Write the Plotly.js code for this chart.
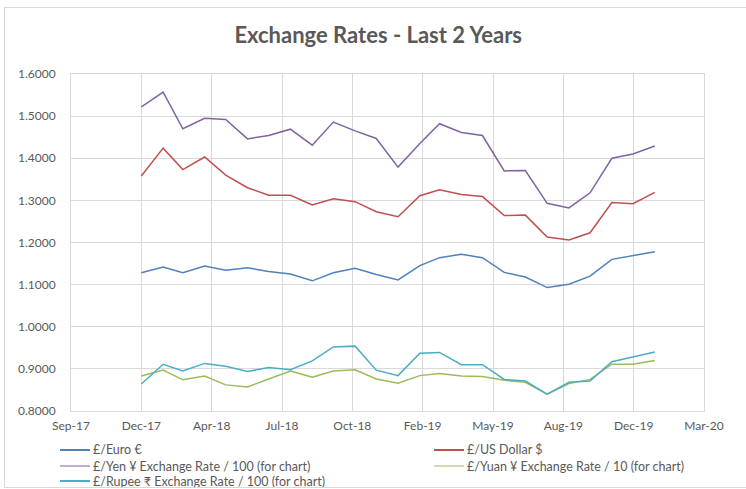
<!DOCTYPE html>
<html>
<head>
<meta charset="utf-8">
<script src="https://cdn.plot.ly/plotly-3.0.1.min.js"></script>
<style>
  html, body { margin: 0; padding: 0; background: #ffffff; }
  #wrap { position: relative; width: 746px; height: 489px; overflow: hidden; }
  #chart { position: absolute; left: 0; top: 0; width: 746px; height: 489px; }
  #frame { position: absolute; left: 4px; top: 7px; width: 760px; height: 479px; border: 1px solid #d9d9d9; pointer-events: none; }
</style>
</head>
<body>
<div id="wrap"><div id="chart"></div><div id="frame"></div></div>
<script>
// Month-end observation dates
const dates = [
  '2017-12-31','2018-01-31','2018-02-28','2018-03-31','2018-04-30','2018-05-31','2018-06-30',
  '2018-07-31','2018-08-31','2018-09-30','2018-10-31','2018-11-30','2018-12-31',
  '2019-01-31','2019-02-28','2019-03-31','2019-04-30','2019-05-31','2019-06-30',
  '2019-07-31','2019-08-31','2019-09-30','2019-10-31','2019-11-30','2019-12-31'
];
const euro = [1.128,1.142,1.128,1.144,1.134,1.140,1.131,1.125,1.109,1.128,1.139,1.124,1.111,
              1.145,1.164,1.172,1.164,1.129,1.118,1.093,1.101,1.120,1.160,1.169,1.178];
const usd  = [1.358,1.424,1.373,1.403,1.360,1.330,1.312,1.312,1.289,1.304,1.297,1.273,1.261,
              1.311,1.325,1.314,1.309,1.264,1.265,1.213,1.206,1.223,1.295,1.292,1.319];
const yen  = [1.522,1.557,1.470,1.495,1.492,1.446,1.454,1.469,1.431,1.486,1.465,1.447,1.379,
              1.435,1.482,1.461,1.454,1.370,1.371,1.293,1.282,1.318,1.400,1.410,1.429];
const yuan = [0.883,0.897,0.874,0.883,0.862,0.857,0.876,0.895,0.880,0.895,0.898,0.876,0.866,
              0.884,0.889,0.883,0.882,0.873,0.868,0.840,0.865,0.875,0.911,0.911,0.920];
const rupee= [0.864,0.911,0.895,0.913,0.906,0.894,0.903,0.898,0.919,0.952,0.954,0.897,0.884,
              0.937,0.939,0.910,0.910,0.875,0.871,0.840,0.868,0.871,0.917,0.928,0.940];

const seriesNames = [
  '£/Euro €',
  '£/US Dollar $',
  '£/Yen ¥ Exchange Rate / 100 (for chart)',
  '£/Yuan ¥ Exchange Rate / 10 (for chart)',
  '£/Rupee ₹ Exchange Rate / 100 (for chart)'
];
const seriesColors = ['#4f81bd', '#c0504d', '#8064a2', '#9bbb59', '#4bacc6'];
const seriesValues = [euro, usd, yen, yuan, rupee];

// x-axis ticks (100-day spacing, as in the source chart)
const tickDates  = ['2017-09-22','2017-12-31','2018-04-10','2018-07-19','2018-10-27',
                    '2019-02-04','2019-05-15','2019-08-23','2019-12-01','2020-03-10'];
const tickLabels = ['Sep-17','Dec-17','Apr-18','Jul-18','Oct-18','Feb-19','May-19','Aug-19','Dec-19','Mar-20'];

const FONT = 'Lato, "Open Sans", sans-serif';
const GREY = '#595959';

// plot-area geometry in pixels
const W = 746, H = 489;
const PL = 71, PR = 704, PT = 74, PB = 411;
const px2x = p => (p - PL) / (PR - PL);
const px2y = p => (PB - p) / (PB - PT);

const traces = seriesValues.map((vals, i) => ({
  type: 'scatter',
  mode: 'lines',
  x: dates,
  y: vals,
  name: seriesNames[i],
  line: { color: seriesColors[i], width: 1.5 },
  showlegend: false,
  hoverinfo: 'x+y+name'
}));

// Legend drawn as shapes + annotations (two columns, three rows)
const legendSlots = [
  { col: 0, row: 0, w: 2 },   // Euro
  { col: 1, row: 0, w: 2 },   // USD
  { col: 0, row: 1, w: 1 },   // Yen
  { col: 1, row: 1, w: 1 },   // Yuan
  { col: 0, row: 2, w: 2 }    // Rupee
];
const colLineX = [60, 434];
const rowY = [450, 466, 481];
const shapes = [];
const annotations = [];
legendSlots.forEach((s, i) => {
  const x0 = colLineX[s.col], x1 = x0 + 30, y = rowY[s.row];
  shapes.push({
    type: 'line', xref: 'paper', yref: 'paper',
    x0: px2x(x0), x1: px2x(x1), y0: px2y(y), y1: px2y(y),
    line: { color: seriesColors[i], width: s.w }
  });
  annotations.push({
    xref: 'paper', yref: 'paper',
    x: px2x(x1 + 1), y: px2y(y),
    xanchor: 'left', yanchor: 'middle',
    text: seriesNames[i], showarrow: false,
    font: { family: FONT, size: 12.5, color: GREY }
  });
});

const layout = {
  width: W,
  height: H,
  paper_bgcolor: '#ffffff',
  plot_bgcolor: '#ffffff',
  margin: { l: PL, r: W - PR, t: PT, b: H - PB, pad: 0 },
  title: {
    text: '<b>Exchange Rates - Last 2 Years</b>',
    font: { family: FONT, size: 22, color: GREY },
    x: 0.507, xanchor: 'center',
    y: 0.928, yanchor: 'middle'
  },
  xaxis: {
    type: 'date',
    range: [tickDates[0], tickDates[tickDates.length - 1]],
    tickvals: tickDates,
    ticktext: tickLabels,
    showgrid: true,
    gridcolor: '#d9d9d9',
    gridwidth: 1,
    showline: true,
    linecolor: '#d9d9d9',
    mirror: true,
    zeroline: false,
    ticks: '',
    ticklabelstandoff: 4,
    tickfont: { family: FONT, size: 12, color: GREY }
  },
  yaxis: {
    range: [0.8, 1.6],
    dtick: 0.1,
    tick0: 0.8,
    tickformat: '.4f',
    showgrid: true,
    gridcolor: '#d9d9d9',
    gridwidth: 1,
    showline: true,
    linecolor: '#d9d9d9',
    mirror: true,
    zeroline: false,
    ticks: '',
    ticklabelstandoff: 12,
    tickfont: { family: FONT, size: 12, color: GREY }
  },
  showlegend: false,
  shapes: shapes,
  annotations: annotations
};

Plotly.newPlot('chart', traces, layout, { displayModeBar: false, staticPlot: true });
</script>
</body>
</html>
